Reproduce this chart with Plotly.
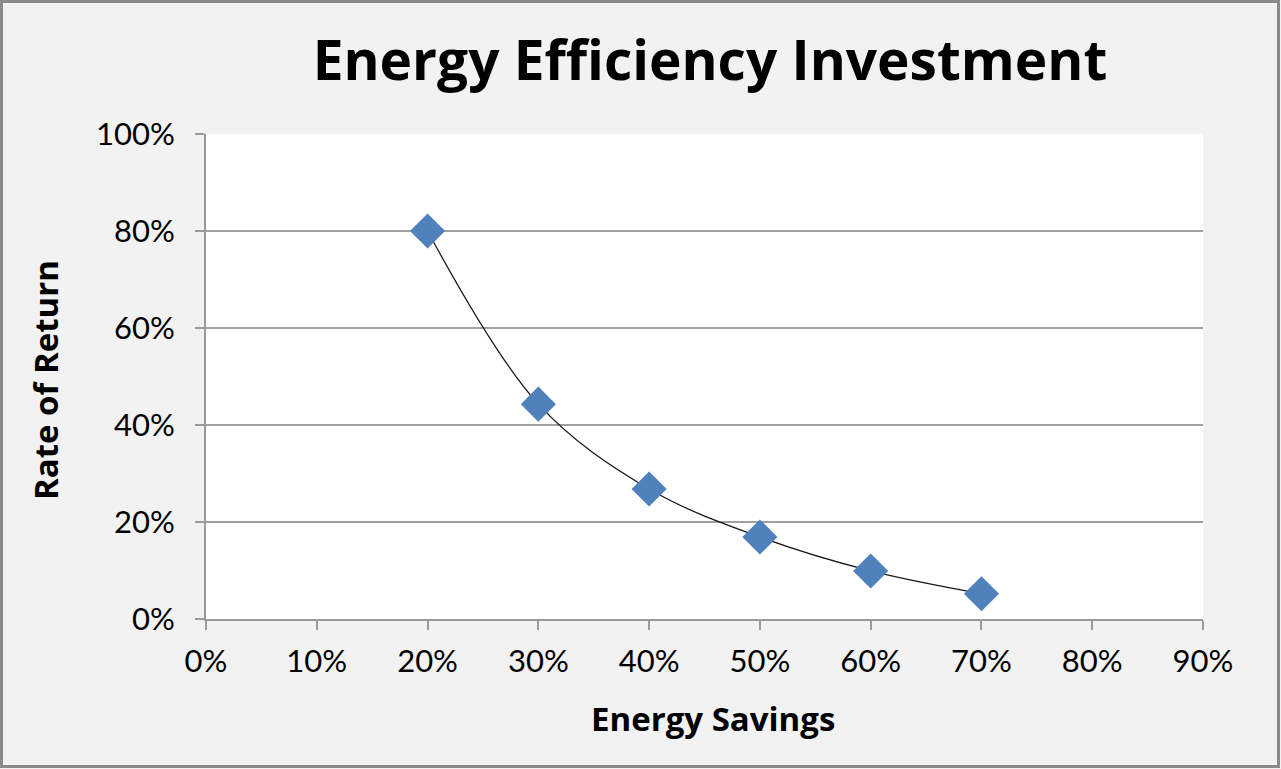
"""Energy efficiency investment: rate of return vs energy savings."""

import plotly.graph_objects as go

# data
energy_savings = [0.20, 0.30, 0.40, 0.50, 0.60, 0.70]
rate_of_return = [0.80, 0.443, 0.268, 0.169, 0.099, 0.052]

x_ticks = [i / 10 for i in range(10)]
y_ticks = [i / 5 for i in range(6)]

W, H = 1281, 769
L, R, T, B = 206, 78, 134, 150
pw, ph = W - L - R, H - T - B

TICK_FONT = "Lato, sans-serif"
BOLD_FONT = "'Open Sans', sans-serif"


def px(x):
    return (x - L) / pw


def py(y):
    return (H - B - y) / ph


fig = go.Figure()

# trendline (smooth curve through the points)
fig.add_trace(go.Scatter(
    x=energy_savings, y=rate_of_return, mode="lines",
    line=dict(color="#1a1a1a", width=1.3, shape="spline", smoothing=1.0),
    hoverinfo="skip", showlegend=False,
))
fig.add_trace(go.Scatter(
    x=energy_savings, y=rate_of_return, mode="markers",
    marker=dict(symbol="diamond", size=27, color="#4f81bd",
                line=dict(width=0)),
    showlegend=False,
))

fig.update_layout(
    width=W, height=H,
    margin=dict(l=L, r=R, t=T, b=B),
    paper_bgcolor="#f2f2f2",
    plot_bgcolor="#ffffff",
    font=dict(family=TICK_FONT, color="#000000", size=31),
    showlegend=False,
    title=dict(
        text="<b>Energy Efficiency Investment</b>",
        x=px(710), xref="paper", xanchor="center",
        y=1 - 61 / H, yref="container", yanchor="middle",
        font=dict(family=BOLD_FONT, size=55, color="#000000"),
    ),
    annotations=[
        dict(text="<b>Energy Savings</b>", xref="paper", yref="paper",
             x=px(713), y=py(718), xanchor="center", yanchor="middle",
             showarrow=False, font=dict(family=BOLD_FONT, size=33)),
        dict(text="<b>Rate of Return</b>", xref="paper", yref="paper",
             x=px(45), y=py(380), xanchor="center", yanchor="middle",
             textangle=-90, showarrow=False,
             font=dict(family=BOLD_FONT, size=33)),
    ],
    shapes=[dict(
        type="rect", xref="paper", yref="paper",
        x0=px(1.5), x1=px(W - 2.5), y0=py(H - 2.5), y1=py(1.5),
        line=dict(color="#8a8a8a", width=3), fillcolor="rgba(0,0,0,0)",
        layer="above",
    )],
)

fig.update_xaxes(
    range=[0, 0.9], tickvals=x_ticks, tickformat=".0%",
    showgrid=False, zeroline=False,
    showline=True, linecolor="#9a9a9a", linewidth=2,
    ticks="outside", ticklen=9, tickcolor="#9a9a9a", tickwidth=2,
    ticklabelstandoff=5,
    tickfont=dict(size=31),
)
fig.update_yaxes(
    range=[0, 1.0], tickvals=y_ticks, tickformat=".0%",
    showgrid=True, gridcolor="#a0a0a0", gridwidth=1.5, zeroline=False,
    showline=True, linecolor="#9a9a9a", linewidth=2,
    ticks="outside", ticklen=9, tickcolor="#9a9a9a", tickwidth=2,
    ticklabelstandoff=14,
    tickfont=dict(size=31),
)

fig.write_html(
    "out.html",
    config={"displayModeBar": False},
    post_script="document.body.style.margin='0';",
)
